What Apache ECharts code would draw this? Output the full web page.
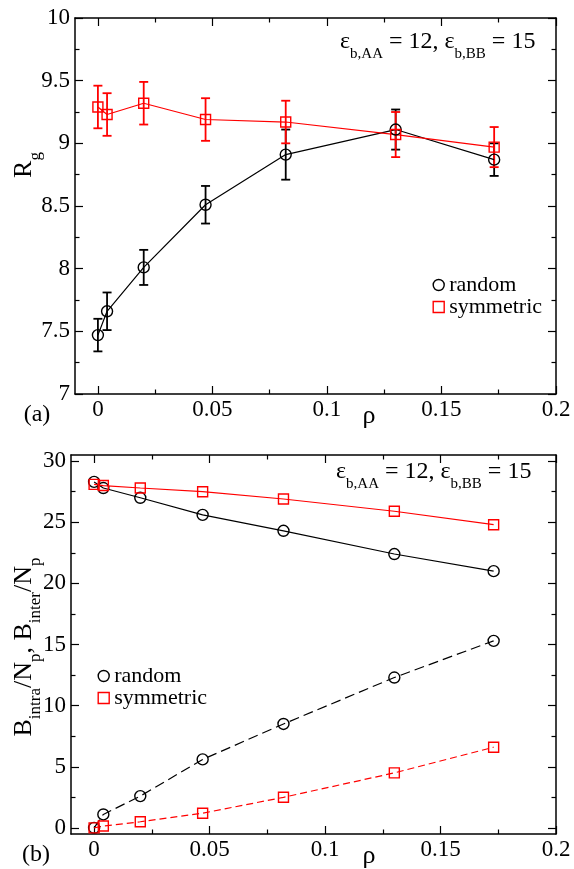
<!DOCTYPE html>
<html>
<head>
<meta charset="utf-8">
<script src="https://cdn.jsdelivr.net/npm/echarts@6/dist/echarts.min.js"></script>
<style>html,body{margin:0;padding:0;background:#fff;}#c{width:574px;height:869px;}</style>
</head>
<body>
<div id="c"></div>
<script>
// ---------- data ----------
const rho = [0, 0.004, 0.02, 0.047, 0.082, 0.13, 0.173];
const rgRandom = [7.47, 7.66, 8.01, 8.51, 8.91, 9.11, 8.87];
const rgRandomErr = [0.13, 0.15, 0.14, 0.15, 0.20, 0.16, 0.13];
const rgSym = [9.29, 9.23, 9.32, 9.19, 9.17, 9.07, 8.97];
const rgSymErr = [0.17, 0.17, 0.17, 0.17, 0.17, 0.18, 0.16];
const bIntraRandom = [28.3, 27.8, 27.0, 25.6, 24.3, 22.4, 21.0];
const bInterRandom = [0, 1.1, 2.6, 5.6, 8.5, 12.3, 15.3];
const bIntraSym = [28.1, 28.0, 27.8, 27.5, 26.9, 25.9, 24.8];
const bInterSym = [0, 0.15, 0.5, 1.2, 2.5, 4.5, 6.6];
const xMajorTicks = [0, 0.05, 0.1, 0.15, 0.2];
const xMinorTicks = [0.025, 0.075, 0.125, 0.175];
const yTopMajorTicks = [7, 7.5, 8, 8.5, 9, 9.5, 10];
const yTopMinorTicks = [7.25, 7.75, 8.25, 8.75, 9.25, 9.75];
const yBotMajorTicks = [0, 5, 10, 15, 20, 25, 30];
const yBotMinorTicks = [2.5, 7.5, 12.5, 17.5, 22.5, 27.5];

const FONT = 'Liberation Serif';
const RED = '#ff0000', BLACK = '#000000';

// ---------- axes ----------
function axisSet(dim, gi, min, max, majors, minors, labelMargin) {
  const posA = dim === 'x' ? 'bottom' : 'left';
  const posB = dim === 'x' ? 'top' : 'right';
  const base = {
    type: 'value', gridIndex: gi, min: min, max: max, splitLine: {show: false},
  };
  const line = {show: true, onZero: false, lineStyle: {color: BLACK, width: 1.5}};
  const noline = {show: false, onZero: false};
  function tick(vals, len) {
    return {show: true, inside: true, length: len, customValues: vals, lineStyle: {color: BLACK, width: 1.2}};
  }
  return [
    Object.assign({}, base, {position: posA, axisLine: line, axisTick: tick(majors, 8),
      axisLabel: {show: true, customValues: majors, margin: labelMargin, color: BLACK, fontFamily: FONT, fontSize: 23}}),
    Object.assign({}, base, {position: posB, axisLine: line, axisTick: tick(majors, 8), axisLabel: {show: false}}),
    Object.assign({}, base, {position: posA, axisLine: noline, axisTick: tick(minors, 4.5), axisLabel: {show: false}}),
    Object.assign({}, base, {position: posB, axisLine: noline, axisTick: tick(minors, 4.5), axisLabel: {show: false}})
  ];
}

const xAxes = [].concat(
  axisSet('x', 0, -0.01, 0.2, xMajorTicks, xMinorTicks, 4),
  axisSet('x', 1, -0.01, 0.2, xMajorTicks, xMinorTicks, 4)
);
const yAxes = [].concat(
  axisSet('y', 0, 7, 10, yTopMajorTicks, yTopMinorTicks, 5),
  axisSet('y', 1, -0.5, 30.5, yBotMajorTicks, yBotMinorTicks, 5)
);

// ---------- series helpers ----------
function errRender(color) {
  return function (params, api) {
    const x = api.value(0), lo = api.value(1), hi = api.value(2);
    const p1 = api.coord([x, hi]), p2 = api.coord([x, lo]);
    const w = 4.5;
    const st = {stroke: color, lineWidth: 1.8};
    return {type: 'group', children: [
      {type: 'line', shape: {x1: p1[0], y1: p1[1], x2: p2[0], y2: p2[1]}, style: st},
      {type: 'line', shape: {x1: p1[0] - w, y1: p1[1], x2: p1[0] + w, y2: p1[1]}, style: st},
      {type: 'line', shape: {x1: p2[0] - w, y1: p2[1], x2: p2[0] + w, y2: p2[1]}, style: st}
    ]};
  };
}
function errSeries(gi, ys, es, color) {
  return {
    type: 'custom', xAxisIndex: gi * 4, yAxisIndex: gi * 4,
    renderItem: errRender(color), encode: {x: 0, y: [1, 2]},
    data: rho.map((x, i) => [x, ys[i] - es[i], ys[i] + es[i]]), silent: true
  };
}
function lineSeries(gi, name, ys, color, symbol, size, dash) {
  return {
    type: 'line', name: name, xAxisIndex: gi * 4, yAxisIndex: gi * 4,
    data: rho.map((x, i) => [x, ys[i]]),
    symbol: symbol, symbolSize: size, showSymbol: true,
    lineStyle: {color: color, width: 1.2, type: dash || 'solid'},
    itemStyle: {color: 'rgba(0,0,0,0)', borderColor: color, borderWidth: 1.4},
    emphasis: {disabled: true}, silent: true
  };
}

// ---------- text helpers ----------
const mctx = document.createElement('canvas').getContext('2d');
function tw(t, size) { mctx.font = size + 'px "' + FONT + '"'; return mctx.measureText(t).width; }
function richGroup(parts, x, y, rotation, center) {
  let total = 0;
  parts.forEach(p => { total += tw(p[0], p[1]); });
  let cx = center ? -total / 2 : 0;
  const children = parts.map(p => {
    const c = {type: 'text', x: cx, y: p[2],
      style: {text: p[0], fontSize: p[1], fontFamily: FONT, fill: BLACK, align: 'left', verticalAlign: 'middle'}};
    cx += tw(p[0], p[1]);
    return c;
  });
  return {type: 'group', x: x, y: y, rotation: rotation || 0, children: children, silent: true};
}
function plainText(t, x, y, size) {
  return {type: 'text', x: x, y: y, silent: true,
    style: {text: t, fontSize: size, fontFamily: FONT, fill: BLACK, align: 'center', verticalAlign: 'middle'}};
}
const SUB = 12;
function epsLabel(x, y) {
  return richGroup([['ε', 24, 0], ['b,AA', 15, SUB], [' = 12, ', 24, 0], ['ε', 24, 0], ['b,BB', 15, SUB], [' = 15', 24, 0]], x, y, 0, false);
}
const YSUB = 11.6;

function legendFor(left, top) {
  return {
    orient: 'vertical', left: left, top: top, padding: 0, itemWidth: 11, itemHeight: 11, itemGap: 0,
    textStyle: {fontFamily: FONT, fontSize: 22, color: BLACK, lineHeight: 20},
    selectedMode: false,
    data: [
      {name: 'random', icon: 'circle', itemStyle: {color: 'rgba(0,0,0,0)', borderColor: BLACK, borderWidth: 1.4}},
      {name: 'symmetric', icon: 'rect', itemStyle: {color: 'rgba(0,0,0,0)', borderColor: RED, borderWidth: 1.4}}
    ]
  };
}

const option = {
  animation: false,
  backgroundColor: '#ffffff',
  textStyle: {fontFamily: FONT},
  grid: [
    {left: 75, right: 18, top: 18, height: 376},
    {left: 71, right: 18, top: 455, height: 379}
  ],
  xAxis: xAxes,
  yAxis: yAxes,
  legend: [legendFor(432.5, 274), legendFor(97.5, 665)],
  series: [
    errSeries(0, rgRandom, rgRandomErr, BLACK),
    lineSeries(0, 'random', rgRandom, BLACK, 'circle', 11),
    errSeries(0, rgSym, rgSymErr, RED),
    lineSeries(0, 'symmetric', rgSym, RED, 'rect', 10),
    lineSeries(1, 'random', bIntraRandom, BLACK, 'circle', 11),
    lineSeries(1, 'random', bInterRandom, BLACK, 'circle', 11, [10, 5]),
    lineSeries(1, 'symmetric', bIntraSym, RED, 'rect', 10),
    lineSeries(1, 'symmetric', bInterSym, RED, 'rect', 10, [7, 4])
  ],
  graphic: [
    epsLabel(340, 42),
    epsLabel(336, 472),
    richGroup([['R', 26, 0], ['g', 17, YSUB]], 24.2, 165, Math.PI / 2, true),
    richGroup([['B', 26, 0], ['intra', 17, YSUB], ['/N', 26, 0], ['p', 17, YSUB], [', B', 26, 0], ['inter', 17, YSUB], ['/N', 26, 0], ['p', 17, YSUB]], 24.2, 647, Math.PI / 2, true),
    plainText('ρ', 369, 416, 26),
    plainText('ρ', 369, 856, 26),
    plainText('(a)', 37, 415, 24),
    plainText('(b)', 36, 855, 24)
  ]
};
const chart = echarts.init(document.getElementById('c'), null, {renderer: 'canvas'});
chart.setOption(option);
</script>
</body>
</html>
